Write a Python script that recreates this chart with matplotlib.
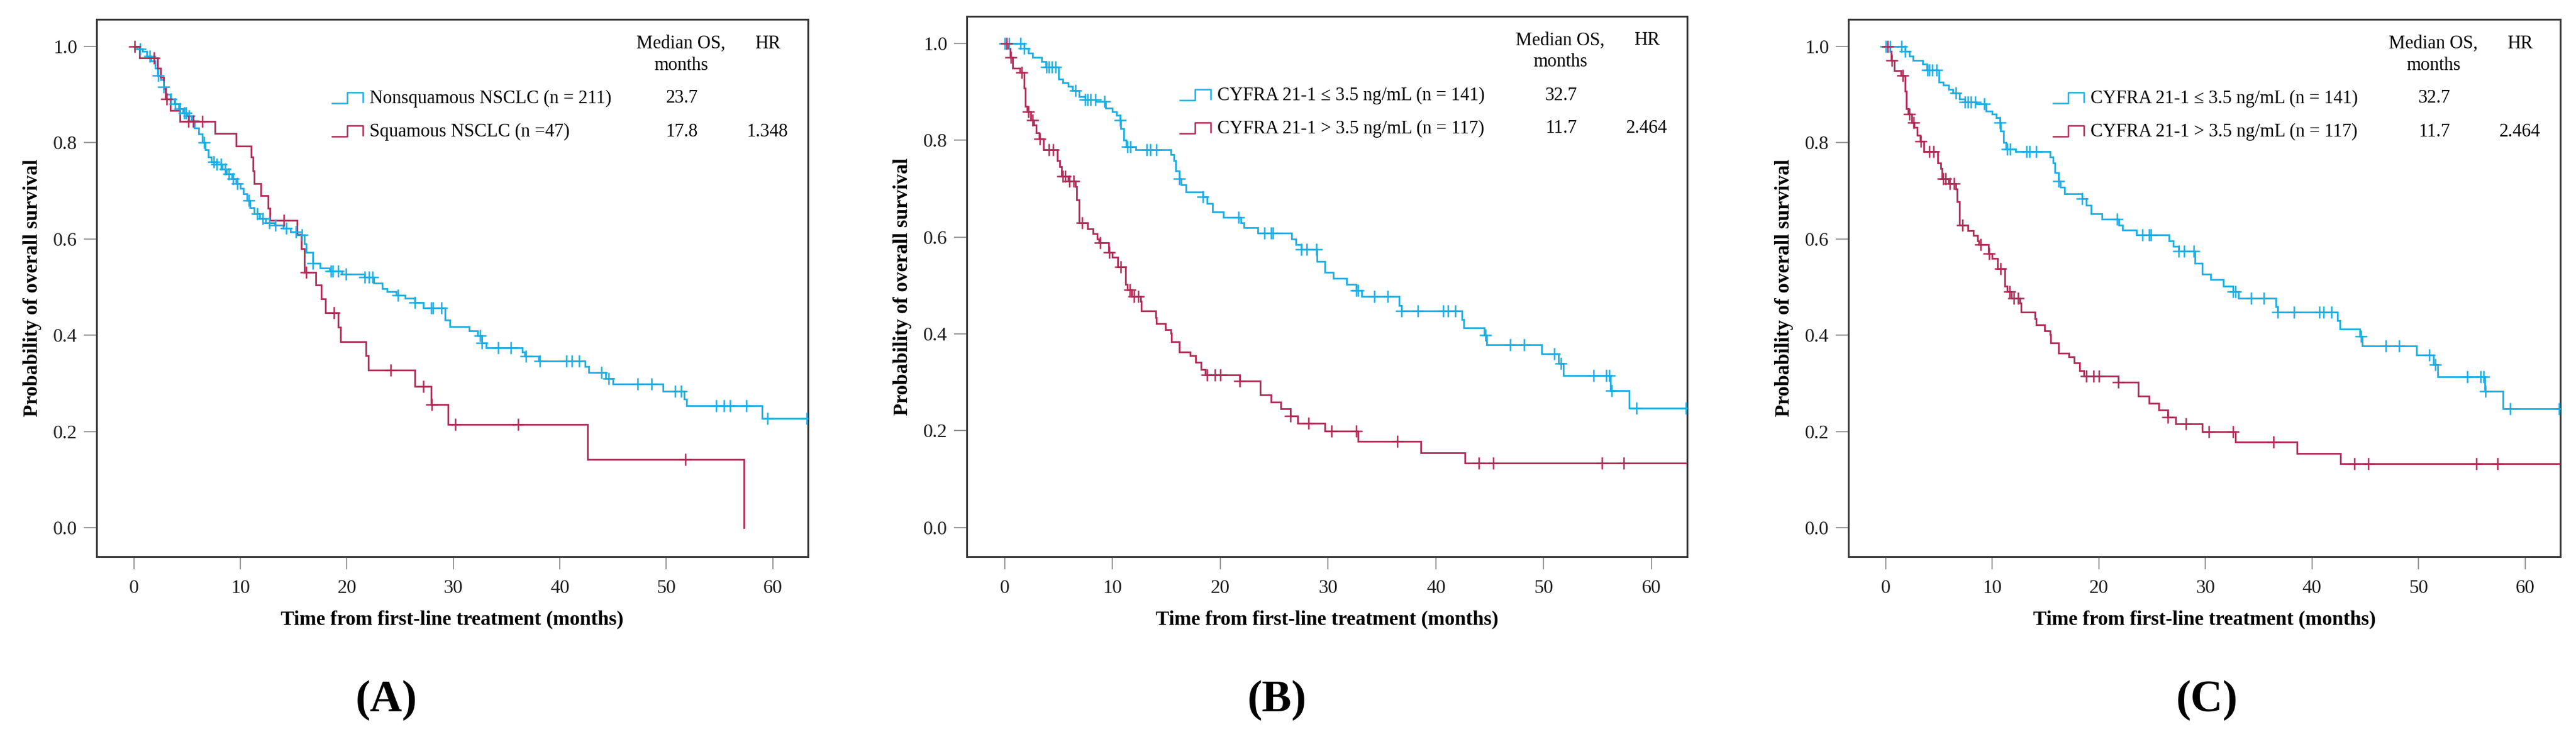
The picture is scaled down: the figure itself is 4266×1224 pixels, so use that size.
import numpy as np
import matplotlib
matplotlib.use("Agg")
import matplotlib.pyplot as plt
from matplotlib.lines import Line2D

plt.rcParams['font.family'] = ['Liberation Serif', 'DejaVu Serif']

# ---------------- data ----------------
# Panel A: Nonsquamous NSCLC (blue)
A_nonsq_times = [0.3, 0.8, 1.2, 1.6, 2.0, 2.2, 2.5, 2.8, 3.0, 3.4, 3.8, 4.2, 4.6, 5.0, 5.4, 5.7,
                 6.1, 6.4, 6.7, 7.0, 7.3, 7.8, 8.3, 8.7, 9.2, 9.6, 10.0, 10.3, 10.6, 10.9, 11.3,
                 11.8, 12.4, 13.2, 14.0, 14.7, 15.3, 16.0, 16.2, 16.8, 17.5, 18.4, 19.5, 21.7,
                 22.5, 23.3, 23.8, 24.6, 25.5, 26.4, 27.2, 29.2, 29.7, 31.5, 32.3, 32.7, 33.1,
                 36.5, 36.7, 38.0, 42.4, 42.7, 44.3, 45.0, 49.7, 51.7, 51.9, 59.0]
A_nonsq_surv = [0.995, 0.99, 0.98, 0.97, 0.955, 0.94, 0.93, 0.915, 0.90, 0.89, 0.88, 0.87, 0.862,
                0.855, 0.845, 0.83, 0.818, 0.80, 0.785, 0.77, 0.76, 0.755, 0.745, 0.735, 0.725,
                0.715, 0.705, 0.693, 0.68, 0.665, 0.652, 0.642, 0.634, 0.628, 0.622, 0.615, 0.608,
                0.59, 0.572, 0.55, 0.54, 0.533, 0.527, 0.52, 0.508, 0.497, 0.49, 0.483, 0.477,
                0.468, 0.456, 0.432, 0.418, 0.409, 0.399, 0.384, 0.374, 0.365, 0.356, 0.346,
                0.335, 0.323, 0.31, 0.298, 0.283, 0.267, 0.254, 0.227]
A_nonsq_censor = [0.6, 1.5, 2.3, 2.8, 3.5, 3.9, 4.3, 4.7, 4.9, 5.2, 5.6, 6.6, 7.5, 7.8, 8.2, 8.6,
                  8.9, 9.3, 9.7, 10.8, 11.6, 12.1, 12.7, 13.3, 14.3, 15.2, 15.8, 16.8, 18.5, 18.7,
                  19.2, 19.9, 21.7, 22.1, 22.4, 24.8, 26.4, 27.9, 28.1, 28.9, 32.5, 32.7, 34.2,
                  35.4, 36.8, 38.1, 40.6, 41.1, 41.8, 43.9, 44.6, 47.3, 48.6, 50.8, 51.4, 54.7,
                  55.4, 56.0, 57.5, 59.5, 63.2]
A_nonsq_end = 63.3

# Panel A: Squamous NSCLC (red)
A_sq_times = [0.5, 2.2, 2.5, 2.8, 2.95, 3.4, 4.3, 7.6, 9.6, 11.0, 11.2, 11.3, 11.9, 12.6, 12.8,
              15.3, 15.7, 16.0, 17.1, 17.6, 18.0, 19.2, 19.4, 21.8, 22.0, 26.4, 27.9, 29.5,
              42.6, 57.3]
A_sq_surv = [0.976, 0.955, 0.935, 0.912, 0.891, 0.867, 0.844, 0.819, 0.793, 0.770, 0.741, 0.715,
             0.690, 0.664, 0.638, 0.609, 0.579, 0.531, 0.504, 0.475, 0.447, 0.416, 0.386, 0.357,
             0.327, 0.293, 0.256, 0.214, 0.142, 0.0]
A_sq_censor = [0.1, 1.9, 3.05, 5.1, 5.6, 6.4, 14.1, 16.2, 18.8, 24.1, 27.2, 28.0, 30.2, 36.1, 51.8]
A_sq_end = 57.3

# Panel B (and C): CYFRA 21-1 <= 3.5 ng/mL (blue)
B_low_times = [1.8, 2.2, 2.58, 3.47, 3.86, 5.0, 5.4, 5.9, 6.3, 6.9, 7.45, 8.5, 9.4, 10.0, 10.4,
               10.7, 10.8, 11.05, 11.3, 12.2, 15.4, 15.7, 15.9, 16.2, 16.4, 16.8, 18.4, 18.8,
               19.3, 20.3, 21.9, 22.2, 23.5, 26.6, 27.0, 27.5, 29.0, 29.7, 30.5, 31.7, 32.6,
               33.1, 36.6, 36.8, 42.4, 42.6, 44.5, 44.7, 49.8, 51.4, 51.8, 56.2, 57.9]
B_low_surv = [0.990, 0.980, 0.971, 0.963, 0.951, 0.926, 0.919, 0.911, 0.903, 0.890, 0.884, 0.880,
              0.866, 0.859, 0.851, 0.841, 0.824, 0.800, 0.787, 0.781, 0.770, 0.758, 0.737,
              0.720, 0.708, 0.693, 0.683, 0.670, 0.652, 0.641, 0.629, 0.619, 0.608, 0.596,
              0.585, 0.575, 0.550, 0.527, 0.515, 0.502, 0.490, 0.477, 0.459, 0.448, 0.430,
              0.413, 0.398, 0.378, 0.359, 0.339, 0.314, 0.283, 0.247]
B_low_censor = [0.0, 0.4, 1.5, 1.8, 3.9, 4.1, 4.4, 4.75, 6.6, 7.45, 7.7, 8.0, 8.4, 9.25, 10.7,
                11.4, 11.7, 13.2, 13.5, 14.1, 16.2, 18.4, 21.7, 24.1, 24.7, 24.9, 27.5, 28.0,
                28.9, 32.6, 32.8, 34.3, 35.5, 36.8, 38.3, 40.7, 41.1, 41.8, 44.6, 46.9, 48.2,
                51.0, 51.6, 54.6, 55.8, 56.1, 56.3, 58.6, 63.2]
B_low_end = 63.3

# Panel B (and C): CYFRA 21-1 > 3.5 ng/mL (red)
B_high_times = [0.39, 0.52, 0.78, 1.42, 1.8, 1.93, 2.11, 2.45, 2.70, 2.96, 3.22, 3.6, 4.9, 5.15,
                5.27, 5.9, 6.56, 6.69, 6.94, 7.7, 8.2, 8.6, 8.74, 9.64, 10.0, 10.5, 11.2, 11.4,
                11.8, 12.6, 12.7, 14.0, 14.1, 14.9, 15.4, 15.5, 16.2, 17.2, 17.7, 18.2, 18.6,
                21.8, 23.7, 24.7, 25.6, 26.5, 27.2, 29.7, 32.8, 38.6, 42.7]
B_high_surv = [0.990, 0.971, 0.949, 0.940, 0.907, 0.870, 0.859, 0.841, 0.832, 0.815, 0.803,
               0.781, 0.758, 0.746, 0.725, 0.715, 0.704, 0.677, 0.629, 0.617, 0.607, 0.596,
               0.588, 0.569, 0.559, 0.538, 0.502, 0.491, 0.477, 0.467, 0.448, 0.434, 0.421,
               0.409, 0.401, 0.384, 0.363, 0.355, 0.342, 0.326, 0.315, 0.303, 0.274, 0.259,
               0.245, 0.230, 0.216, 0.199, 0.178, 0.155, 0.133]
B_high_censor = [0.2, 0.6, 1.6, 2.2, 2.6, 3.3, 4.1, 4.5, 5.4, 5.6, 6.0, 6.4, 7.2, 8.9, 9.7,
                 10.8, 11.6, 12.0, 12.4, 18.8, 19.5, 20.0, 21.8, 26.5, 28.2, 30.3, 32.6, 36.4,
                 44.0, 45.3, 55.4, 57.4]
B_high_end = 63.3

x_ticks = [0, 10, 20, 30, 40, 50, 60]
y_ticks = [0.0, 0.2, 0.4, 0.6, 0.8, 1.0]
y_tick_labels = ["0.0", "0.2", "0.4", "0.6", "0.8", "1.0"]

A_labels = ["Nonsquamous NSCLC (n = 211)", "Squamous NSCLC (n =47)"]
A_median = ["23.7", "17.8"]
A_hr = ["", "1.348"]
B_labels = ["CYFRA 21-1 \u2264 3.5 ng/mL (n = 141)", "CYFRA 21-1 > 3.5 ng/mL (n = 117)"]
B_median = ["32.7", "11.7"]
B_hr = ["", "2.464"]
panel_letters = ["(A)", "(B)", "(C)"]

x_label = "Time from first-line treatment (months)"
y_label = "Probability of overall survival"
header_median = "Median OS,"
header_months = "months"
header_hr = "HR"

# ---------------- style / layout ----------------
BLUE = "#1AAEE6"
RED = "#B22A55"
W, H = 4266, 1224
DPI = 100

fig = plt.figure(figsize=(W / DPI, H / DPI), dpi=DPI)
fig.patch.set_facecolor("white")

# axes boxes in pixels: left, top, right, bottom
boxes = [(160, 32, 1338, 922), (1601, 27, 2794, 922), (3061, 32, 4240, 922)]
text_left_off = [726, 778, 778]
letter_x = [640, 2115, 3655]

panels = [
    (A_nonsq_times, A_nonsq_surv, A_nonsq_censor, A_nonsq_end,
     A_sq_times, A_sq_surv, A_sq_censor, A_sq_end, A_labels, A_median, A_hr),
    (B_low_times, B_low_surv, B_low_censor, B_low_end,
     B_high_times, B_high_surv, B_high_censor, B_high_end, B_labels, B_median, B_hr),
    (B_low_times, B_low_surv, B_low_censor, B_low_end,
     B_high_times, B_high_surv, B_high_censor, B_high_end, B_labels, B_median, B_hr),
]


def km(ax, times, surv, cens, end, color):
    t = np.array(times, dtype=float)
    s = np.array(surv, dtype=float)
    xs = np.concatenate([[0.0], t, [end]])
    ys = np.concatenate([[1.0], s, [s[-1]]])
    ax.step(xs, ys, where="post", color=color, lw=2.0, solid_joinstyle="miter", zorder=3)
    c = np.array(cens, dtype=float)
    idx = np.searchsorted(t, c, side="right") - 1
    full = np.concatenate([[1.0], s])
    cy = full[idx + 1]
    ax.plot(c, cy, linestyle="none", marker="+", markersize=14, mew=1.8,
            color=color, zorder=4)


for i, (box, pdata) in enumerate(zip(boxes, panels)):
    l, t, r, b = box
    ax = fig.add_axes([l / W, 1 - b / H, (r - l) / W, (b - t) / H])
    (bt, bs, bc, be, rt, rs, rc, re_, labels, medians, hrs) = pdata
    km(ax, bt, bs, bc, be, BLUE)
    km(ax, rt, rs, rc, re_, RED)

    ax.set_xlim(-3.5, 63.3)
    ax.set_ylim(-0.06, 1.056)
    ax.set_xticks(x_ticks)
    ax.set_yticks(y_ticks)
    ax.set_yticklabels(y_tick_labels)
    ax.tick_params(axis="both", direction="out", length=15, width=1.5, color="#9a9a9a",
                   labelsize=23, labelcolor="#1a1a1a")
    ax.tick_params(axis="x", pad=12)
    ax.tick_params(axis="y", pad=8)
    for sp in ax.spines.values():
        sp.set_linewidth(2.2)
        sp.set_color("#3a3a3a")
    ax.set_xlabel(x_label, fontsize=24, fontweight="bold", labelpad=16)
    ax.set_ylabel(y_label, fontsize=24, fontweight="bold", labelpad=14)

    aw, ah = r - l, b - t

    def fx(X):
        return (X - l) / aw

    def fy(Y):
        return 1 - (Y - t) / ah

    # header
    ax.text(fx(r - 210), fy(t + 40), header_median, transform=ax.transAxes, ha="center",
            va="center", fontsize=22)
    ax.text(fx(r - 210), fy(t + 76), header_months, transform=ax.transAxes, ha="center",
            va="center", fontsize=22)
    ax.text(fx(r - 67), fy(t + 40), header_hr, transform=ax.transAxes, ha="center",
            va="center", fontsize=22)
    row_y = [t + 131, t + 186]
    tl = r - text_left_off[i]
    for j, col in enumerate([BLUE, RED]):
        Y = row_y[j]
        ax.text(fx(tl), fy(Y), labels[j], transform=ax.transAxes, ha="left", va="center",
                fontsize=22)
        ax.text(fx(r - 209), fy(Y), medians[j], transform=ax.transAxes, ha="center",
                va="center", fontsize=22)
        if hrs[j]:
            ax.text(fx(r - 67), fy(Y), hrs[j], transform=ax.transAxes, ha="center",
                    va="center", fontsize=22)
        x0 = tl - 62
        hx = [x0, x0 + 25, x0 + 25, x0 + 51, x0 + 51]
        hy = [Y + 8, Y + 8, Y - 10, Y - 10, Y + 6]
        ax.add_line(Line2D([fx(v) for v in hx], [fy(v) for v in hy], transform=ax.transAxes,
                           color=col, lw=1.8, clip_on=False))

    fig.text(letter_x[i] / W, 1 - 1160 / H, panel_letters[i], ha="center", va="center",
             fontsize=53, fontweight="bold")

fig.savefig("out.png", dpi=DPI, facecolor="white")
